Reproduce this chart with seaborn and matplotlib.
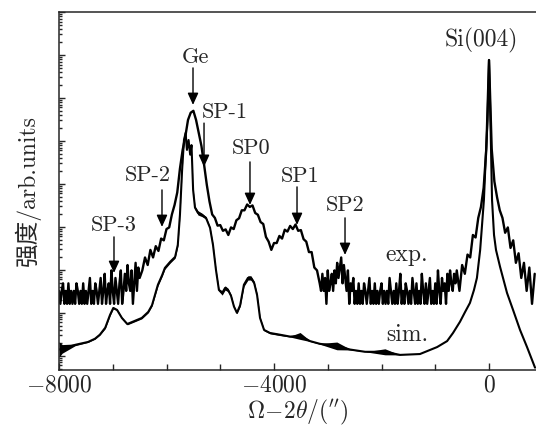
import numpy as np
import matplotlib
matplotlib.use('Agg')
import matplotlib.pyplot as plt
import seaborn as sns
from matplotlib.ticker import LogLocator, FixedLocator, MultipleLocator, NullFormatter

# ------------- DADOS

# curva experimental (contagens; nivel 1 = ruido de fundo)
# trechos de fundo lidos a cada 25", trechos de pico a cada 50"
exp_omega = np.concatenate([np.arange(-8000, -6499, 25),
                            np.arange(-6450, -3199, 50),
                            np.arange(-3150, -624, 25),
                            np.arange(-600, 851, 50)])
exp_counts = [
    # -8000 .. -6500 (25")
    2, 1, 2, 3, 1, 2, 1, 3, 1, 2,
    1, 2, 1, 3, 2, 1, 2, 1, 3, 1,
    2, 1, 2, 4, 1, 2, 1, 3, 2, 1,
    2, 4, 1, 2, 5, 1, 2, 3, 1, 6,
    2, 1, 4, 2, 1, 3, 6, 1, 2, 5,
    2, 8, 3, 2, 6, 1, 3, 9, 2, 7,
    4,
    # -6450 .. -3200 (50")
    6, 12, 8, 18, 12, 22, 17, 33, 30, 55, 60, 120, 200, 390, 1400, 3800,
    7800, 19000, 28000, 31000, 19000, 9500, 4700, 1700, 585, 240,
    120, 100, 66, 68, 50, 54, 40, 60, 55, 88,
    98, 150, 150, 205, 180, 195, 130, 118, 80, 72,
    36, 28, 18, 26, 26, 38, 33, 53, 48, 65,
    55, 70, 50, 52, 32, 28, 16, 16, 7, 6,
    # -3150 .. -625 (25")
    3, 2, 5, 2, 4, 1, 6, 2, 3, 5,
    2, 6, 3, 9, 4, 7, 12, 3, 8, 4,
    2, 6, 1, 3, 2, 4, 1, 2, 1, 3,
    1, 2, 1, 3, 2, 1, 2, 4, 1, 2,
    1, 3, 1, 2, 1, 2, 3, 1, 2, 1,
    2, 1, 4, 2, 1, 2, 1, 3, 1, 2,
    5, 1, 2, 1, 3, 2, 1, 2, 1, 4,
    2, 1, 3, 1, 2, 1, 5, 2, 1, 3,
    1, 2, 4, 1, 2, 1, 3, 1, 6, 2,
    1, 4, 2, 3, 1, 5, 2, 6, 3, 2,
    5, 3,
    # -600 .. 850 (50")
    6, 2, 8, 5, 14, 12, 40, 35, 100, 180, 500, 4000, 470000, 4000, 700,
    300, 150, 100, 45, 60, 20, 30, 9, 15, 4, 9, 2, 7, 1, 5,
]
exp_floor = 16.2

# curva simulada
sim_omega = [-8000, -7940, -7700, -7460, -7330, -7240, -7140, -7050, -6990, -6920,
             -6830, -6730, -6590, -6460, -6340, -6270, -6160, -6080, -6030, -5930,
             -5840, -5790, -5750, -5710, -5675, -5645, -5620, -5590, -5560, -5535,
             -5505, -5470, -5415, -5340, -5265, -5190, -5135, -5080, -5025, -4965,
             -4910, -4855, -4800, -4745, -4690, -4630, -4560, -4485, -4430, -4370,
             -4315, -4260, -4185, -4075, -3890, -3700, -3515, -3330, -3145, -2830,
             -2585, -2305, -1935, -1655, -1285, -965, -780, -670, -540, -445,
             -355, -280, -225, -165, -130, -95, -55, -28, 0, 28,
             56, 93, 130, 205, 335, 447, 577, 707, 856]
sim_int = [1.4, 1.45, 1.8, 2.1, 2.5, 3.1, 4.5, 9, 13, 11.7,
           7.6, 5.5, 6.5, 7.6, 10.5, 15, 45, 76, 111, 155,
           200, 380, 1900, 21000, 105000, 153000, 62000, 105000, 48000, 80000,
           7250, 2800, 2120, 1900, 1620, 950, 380, 100, 34, 29,
           38, 34, 25, 14, 10, 15, 45, 65, 65, 50,
           26, 7.6, 4, 3.4, 3.1, 2.8, 2.9, 2.2, 1.9, 1.7,
           1.4, 1.24, 1.24, 1.05, 1.1, 1.6, 2.2, 3.4, 6.2, 10.5,
           17, 34, 65, 290, 1100, 4250, 62000, 300000, 7.6e6, 250000,
           4250, 650, 290, 118, 29, 11.7, 4, 1.6, 0.53]
# espessura das franjas (decadas)
sim_fringe = [0.18, 0.10, 0.02, 0.01, 0.01, 0.01, 0.02, 0.02, 0.02, 0.02,
              0.02, 0.02, 0.02, 0.02, 0.02, 0.02, 0.03, 0.03, 0.03, 0.03,
              0.03, 0.03, 0.02, 0.02, 0.02, 0.02, 0.02, 0.02, 0.02, 0.02,
              0.02, 0.04, 0.05, 0.04, 0.03, 0.02, 0.02, 0.02, 0.03, 0.05,
              0.05, 0.04, 0.03, 0.02, 0.02, 0.03, 0.04, 0.05, 0.05, 0.04,
              0.03, 0.02, 0.02, 0.02, 0.02, 0.01, 0.08, 0.01, 0.01, 0.09,
              0.01, 0, 0.07, 0, 0, 0, 0, 0, 0, 0,
              0, 0, 0, 0, 0, 0, 0, 0, 0, 0,
              0, 0, 0, 0, 0, 0, 0, 0, 0]

# ------------- GRAFICO

sns.set_style('ticks')
plt.rcParams['font.family'] = ['cmr10', 'Noto Sans CJK SC']
plt.rcParams['mathtext.fontset'] = 'cm'
plt.rcParams['axes.formatter.use_mathtext'] = True

fig = plt.figure(figsize=(5.36, 4.28), dpi=100)
ax = fig.add_axes([59 / 536, 1 - 370 / 428, 477 / 536, 358 / 428])

exp_y = np.array(exp_counts) * exp_floor
sim_y = np.array(sim_int)
fr = 10 ** np.array(sim_fringe)

sns.lineplot(x=exp_omega, y=exp_y, ax=ax, color='k', lw=1.7, estimator=None)
sns.lineplot(x=sim_omega, y=sim_y, ax=ax, color='k', lw=1.5, estimator=None)
ax.fill_between(sim_omega, sim_y / fr, sim_y * fr, color='k', lw=0)

ax.set_yscale('log')
ax.set_xlim(-8000, 874)
ax.set_ylim(10 ** -0.33, 1e8)

ax.xaxis.set_major_locator(FixedLocator([-8000, -4000, 0]))
ax.xaxis.set_minor_locator(MultipleLocator(1000))
ax.yaxis.set_major_locator(LogLocator(base=10, numticks=20))
ax.yaxis.set_minor_locator(LogLocator(base=10, subs=np.arange(2, 10), numticks=20))
ax.yaxis.set_major_formatter(NullFormatter())
ax.yaxis.set_minor_formatter(NullFormatter())

ax.tick_params(which='both', direction='in', top=False, right=False, width=1, labelsize=17, pad=3)
ax.tick_params(axis='x', which='major', length=5)
ax.tick_params(axis='x', which='minor', length=4)
ax.tick_params(axis='y', which='major', length=4.5)
ax.tick_params(axis='y', which='minor', length=2.5)
ax.spines['right'].set_visible(False)
for s in ['left', 'top', 'bottom']:
    ax.spines[s].set_linewidth(1.1)

ax.set_xlabel(r'$\Omega\!-\!2\theta/({}^{\prime\prime})$', fontsize=17, labelpad=1)
ax.set_ylabel('强度/arb.units', fontsize=17, labelpad=10)

# picos
arrow = dict(arrowstyle='-|>,head_length=0.55,head_width=0.25', color='k', lw=1,
             mutation_scale=13, shrinkA=0, shrinkB=0)
peaks = [('Ge', -5470, 9.0e6, -5507, 5.0e6, 6.9e5),
         ('SP-1', -4912, 4.7e5, -5302, 2.6e5, 2.5e4),
         ('SP0', -4428, 6.9e4, -4447, 3.25e4, 3250),
         ('SP1', -3516, 1.53e4, -3572, 8520, 1113),
         ('SP2', -2679, 3250, -2679, 1620, 223),
         ('SP-2', -6344, 1.62e4, -6084, 7250, 1000),
         ('SP-3', -6977, 1113, -6977, 585, 85)]
for txt, tx, ty, axx, ay0, ay1 in peaks:
    ax.text(tx, ty, txt, fontsize=16, ha='center', va='center')
    ax.annotate('', xy=(axx, ay1), xytext=(axx, ay0), arrowprops=arrow)

ax.text(-149, 2.12e7, 'Si(004)', fontsize=17, ha='center', va='center')
ax.text(-1526, 223, 'exp.', fontsize=17, ha='center', va='center')
ax.text(-1526, 3.08, 'sim.', fontsize=17, ha='center', va='center')

plt.savefig('out.png', dpi=100)
